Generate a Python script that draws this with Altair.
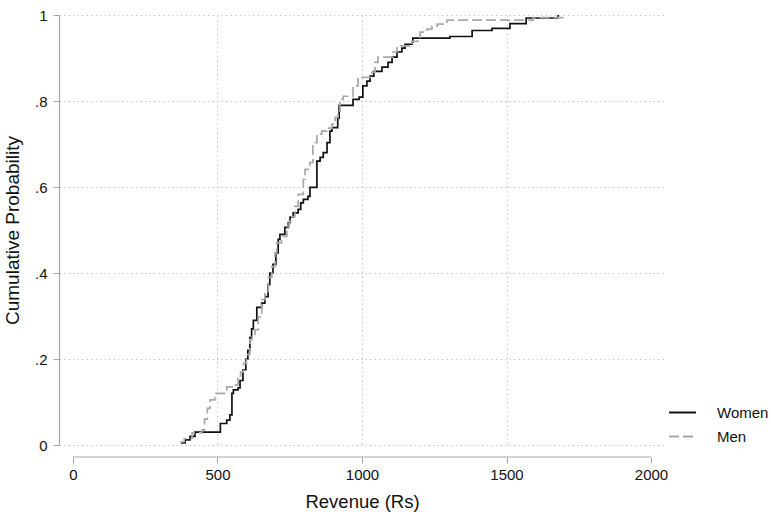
import altair as alt
import pandas as pd

women_revenue = [374, 388, 405, 422, 510, 532, 543, 550, 555, 571, 578, 588, 598, 605, 612, 618,
                 624, 636, 653, 664, 675, 681, 692, 702, 710, 716, 733, 745, 751, 762, 779, 788,
                 797, 813, 820, 844, 855, 866, 879, 889, 896, 916, 921, 969, 990, 1003, 1017,
                 1028, 1041, 1069, 1090, 1104, 1121, 1138, 1149, 1173, 1176, 1304, 1381, 1450,
                 1512, 1568, 1678]
women_cum_prob = [0.005, 0.012, 0.02, 0.03, 0.05, 0.058, 0.07, 0.12, 0.128, 0.133, 0.15, 0.175,
                  0.2, 0.22, 0.25, 0.27, 0.29, 0.32, 0.33, 0.345, 0.373, 0.40, 0.42, 0.447, 0.478,
                  0.49, 0.506, 0.517, 0.53, 0.54, 0.548, 0.563, 0.571, 0.578, 0.599, 0.66, 0.669,
                  0.68, 0.703, 0.73, 0.738, 0.76, 0.79, 0.804, 0.809, 0.835, 0.846, 0.858, 0.869,
                  0.879, 0.89, 0.902, 0.914, 0.923, 0.932, 0.937, 0.946, 0.950, 0.964, 0.969,
                  0.980, 0.993, 1.0]

men_revenue = [370, 385, 412, 446, 455, 465, 474, 491, 532, 555, 571, 580, 590, 600, 612, 620,
               630, 641, 653, 664, 676, 688, 699, 705, 722, 740, 748, 757, 768, 779, 797, 803,
               820, 830, 844, 861, 878, 896, 907, 917, 924, 935, 969, 986, 1034, 1045, 1055,
               1107, 1121, 1173, 1194, 1201, 1225, 1242, 1260, 1294, 1592, 1695]
men_cum_prob = [0.007, 0.015, 0.028, 0.035, 0.06, 0.085, 0.105, 0.12, 0.135, 0.14, 0.155, 0.17,
                0.19, 0.21, 0.245, 0.255, 0.268, 0.298, 0.338, 0.357, 0.39, 0.415, 0.447, 0.47,
                0.485, 0.508, 0.52, 0.531, 0.555, 0.583, 0.618, 0.641, 0.657, 0.703, 0.723, 0.73,
                0.737, 0.746, 0.762, 0.774, 0.804, 0.811, 0.835, 0.855, 0.867, 0.89, 0.902,
                0.914, 0.928, 0.939, 0.944, 0.960, 0.967, 0.974, 0.979, 0.988, 0.994, 1.0]

groups = ["Women", "Men"]
x_ticks = [0, 500, 1000, 1500, 2000]
y_ticks = [0, 0.2, 0.4, 0.6, 0.8, 1.0]
y_tick_labels = ["0", ".2", ".4", ".6", ".8", "1"]

df = pd.concat([
    pd.DataFrame({"revenue": women_revenue, "prob": women_cum_prob, "group": groups[0]}),
    pd.DataFrame({"revenue": men_revenue, "prob": men_cum_prob, "group": groups[1]}),
], ignore_index=True)

axis_df = pd.DataFrame({"x0": [x_ticks[0]], "x1": [x_ticks[-1]]})

FONT = "Liberation Sans"
W, H = 606, 430
AXIS_GRAY = "#a6a6a6"
GRID_GRAY = "#c8c8c8"

label_map = "{" + ",".join(f"'{v:.1f}':'{t}'" for v, t in zip(y_ticks, y_tick_labels)) + "}"

x_scale = alt.Scale(domain=[-48.4, 2048.4], nice=False, zero=False)
y_scale = alt.Scale(domain=[0, 1], nice=False, zero=False)

leg = alt.Legend(
    orient="none", legendX=609, legendY=383, symbolType="stroke", symbolSize=729,
    symbolStrokeWidth=1.8, labelFontSize=15, labelFont=FONT, labelColor="#111111",
    labelOffset=20, rowPadding=1,
)

lines = alt.Chart(df).mark_line(interpolate="step-after", strokeWidth=1.7).encode(
    x=alt.X("revenue:Q", scale=x_scale, title="Revenue (Rs)",
            axis=alt.Axis(values=x_ticks, format="d", domain=False, offset=12, tickSize=6,
                          tickColor=AXIS_GRAY, labelPadding=4, labelFontSize=15,
                          titlePadding=10, titleFontSize=18.5, grid=True,
                          gridOpacity=alt.condition("datum.value == 0 || datum.value == 2000",
                                                    alt.value(0), alt.value(1)))),
    y=alt.Y("prob:Q", scale=y_scale, title="Cumulative Probability",
            axis=alt.Axis(values=y_ticks, format=".1f", labelExpr=f"{label_map}[datum.label]",
                          domain=True, domainColor=AXIS_GRAY, domainWidth=1.2, tickSize=6,
                          tickColor=AXIS_GRAY, labelPadding=6, labelFontSize=15,
                          titlePadding=12, titleFontSize=19, grid=True)),
    color=alt.Color("group:N", title=None,
                    scale=alt.Scale(domain=groups, range=["#111111", "#a8a8a8"]), legend=leg),
    strokeDash=alt.StrokeDash("group:N", title=None,
                              scale=alt.Scale(domain=groups, range=[[1, 0], [10, 4]]), legend=leg),
)

x_axis_line = alt.Chart(axis_df).mark_rule(color=AXIS_GRAY, strokeWidth=1.2).encode(
    x=alt.X("x0:Q", scale=x_scale), x2="x1:Q", y=alt.value(H + 12)
)

chart = alt.layer(x_axis_line, lines).properties(
    width=W, height=H,
    autosize=alt.AutoSizeParams(type="none"),
    padding={"left": 59, "top": 15, "right": 106, "bottom": 67},
    background="white",
).configure_view(stroke=None).configure_axis(
    labelFont=FONT, titleFont=FONT, labelColor="#111111", titleColor="#111111",
    titleFontWeight="normal", gridColor=GRID_GRAY, gridDash=[1.5, 3],
    gridWidth=1, labelAngle=0,
)

chart.save("out.html", embed_options={"renderer": "svg", "actions": False})
